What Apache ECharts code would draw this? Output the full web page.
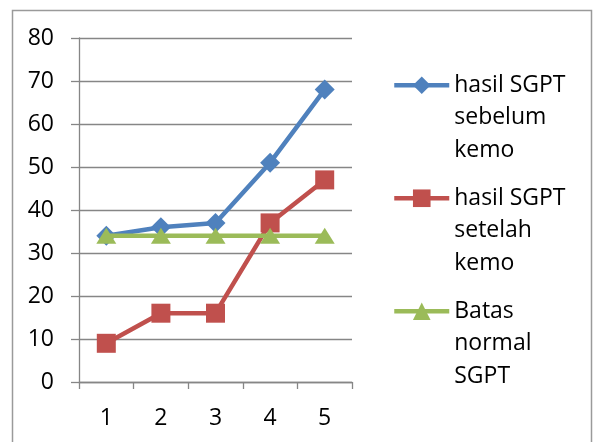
<!DOCTYPE html>
<html><head><meta charset="utf-8">
<script src="https://cdn.jsdelivr.net/npm/echarts@6/dist/echarts.min.js"></script>
<style>html,body{margin:0;padding:0;background:#fff}#c{width:595px;height:442px}</style>
</head><body><div id="c"></div>
<script>
var categories = ['1', '2', '3', '4', '5'];
var seriesNames = ['hasil SGPT sebelum kemo', 'hasil SGPT setelah kemo', 'Batas normal SGPT'];
var legendLabels = ['hasil SGPT\nsebelum\nkemo', 'hasil SGPT\nsetelah\nkemo', 'Batas\nnormal\nSGPT'];
var sebelum = [34, 36, 37, 51, 68];
var setelah = [9, 16, 16, 37, 47];
var batas = [34, 34, 34, 34, 34];
var yMin = 0, yMax = 80, yStep = 10;

var colors = ['#4F81BD', '#C0504D', '#9BBB59'];
var symbols = ['diamond', 'rect', 'triangle'];
var symbolSizes = [[20, 20], [19, 19], [20, 16]];
var FONT = 'Open Sans';
var values = [sebelum, setelah, batas];

var chart = echarts.init(document.getElementById('c'), null, {renderer: 'canvas'});

var legends = [0, 1, 2].map(function (i) {
  return {
    data: [seriesNames[i]],
    left: 392,
    top: 4 + i * 113,
    orient: 'vertical',
    padding: 0,
    itemWidth: 55,
    itemHeight: 22,
    lineStyle: {width: 4.5},
    formatter: function () { return '\n\n' + legendLabels[i]; },
    textStyle: {fontFamily: FONT, fontSize: 23, color: '#000', lineHeight: 32.5},
    selectedMode: false
  };
});

var series = [0, 1, 2].map(function (i) {
  return {
    name: seriesNames[i],
    type: 'line',
    data: values[i],
    symbol: symbols[i],
    symbolSize: symbolSizes[i],
    showAllSymbol: true,
    lineStyle: {color: colors[i], width: 4.5},
    itemStyle: {color: colors[i]},
    z: 3 + i,
    animation: false
  };
});

chart.setOption({
  backgroundColor: '#fff',
  animation: false,
  textStyle: {fontFamily: FONT},
  grid: {left: 79, top: 38, right: 243, bottom: 60, containLabel: false},
  legend: legends,
  xAxis: {
    type: 'category',
    data: categories,
    boundaryGap: true,
    axisLine: {lineStyle: {color: '#868686', width: 1.3}},
    axisTick: {show: true, length: 7, lineStyle: {color: '#868686', width: 1.3}},
    axisLabel: {fontFamily: FONT, fontSize: 23, color: '#000', margin: 25}
  },
  yAxis: {
    type: 'value',
    min: yMin, max: yMax, interval: yStep,
    axisLine: {show: true, lineStyle: {color: '#868686', width: 1.3}},
    axisTick: {show: true, length: 8, lineStyle: {color: '#868686', width: 1.3}},
    splitLine: {show: true, lineStyle: {color: '#868686', width: 1.3}},
    axisLabel: {fontFamily: FONT, fontSize: 23, color: '#000', margin: 25}
  },
  graphic: [{
    type: 'rect', left: 10, top: 8, silent: true,
    shape: {width: 579, height: 440},
    style: {fill: 'none', stroke: '#9a9a9a', lineWidth: 1.5}
  }],
  series: series
});
</script>
</body></html>
